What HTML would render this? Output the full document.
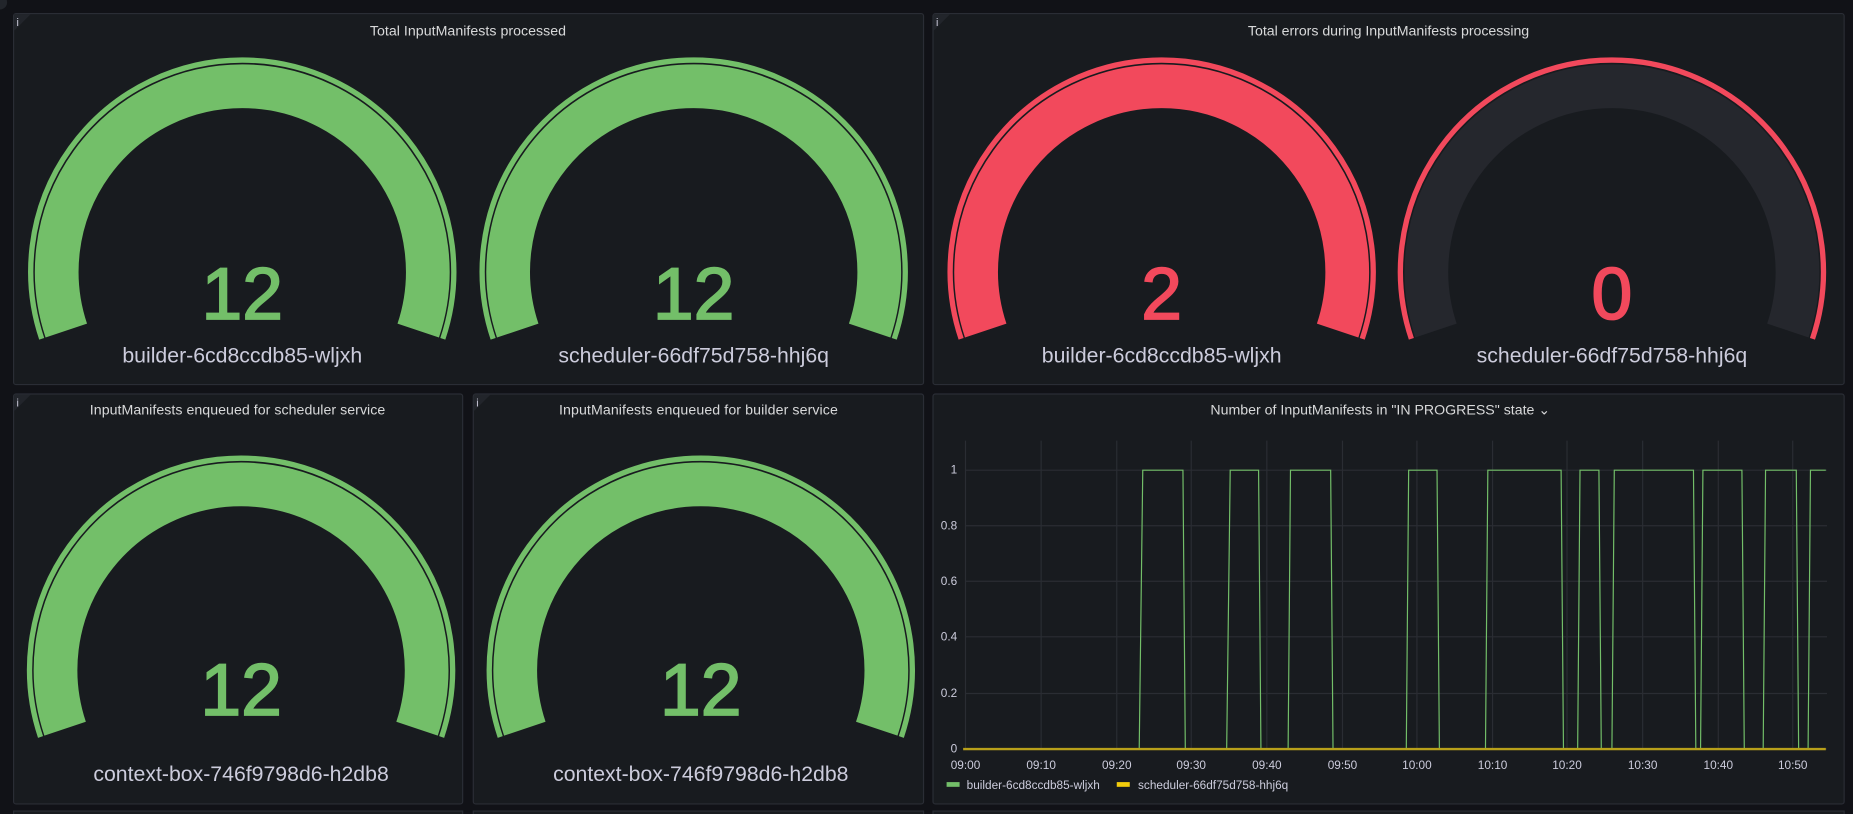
<!DOCTYPE html>
<html><head><meta charset="utf-8"><style>
html,body{margin:0;padding:0;background:#111217;}
svg{display:block;}
text{font-family:"Liberation Sans",sans-serif;}
</style></head><body>
<svg width="1853" height="814" viewBox="0 0 1568 689" preserveAspectRatio="none" xmlns="http://www.w3.org/2000/svg">
<rect width="1568" height="689" fill="#111217"/>
<circle cx="0" cy="2" r="6" fill="#22252b"/>
<g fill="#181b1f" stroke="#2a2d35" stroke-width="1">
<rect x="11.5" y="11.5" width="770" height="314" rx="2"/>
<rect x="789.5" y="11.5" width="771" height="314" rx="2"/>
<rect x="11.5" y="333.5" width="380" height="347" rx="2"/>
<rect x="400.5" y="333.5" width="381" height="347" rx="2"/>
<rect x="789.5" y="333.5" width="771" height="347" rx="2"/>
<rect x="11.5" y="686.5" width="380" height="10"/>
<rect x="400.5" y="686.5" width="381" height="10"/>
<rect x="789.5" y="686.5" width="771" height="10"/>
</g>
<g fill="#22252b">
<polygon points="12,12 26,12 12,26"/><polygon points="790,12 804,12 790,26"/>
<polygon points="12,334 26,334 12,348"/><polygon points="401,334 415,334 401,348"/>
</g>
<g fill="#ccccdc" font-size="9" font-family="Liberation Serif,serif">
<text x="14" y="22">i</text><text x="792" y="22">i</text><text x="14" y="344">i</text><text x="403" y="344">i</text>
</g>
<g fill="#d8d9da" font-size="12" text-anchor="middle">
<text x="396" y="30" textLength="166">Total InputManifests processed</text>
<text x="1175" y="30" textLength="238">Total errors during InputManifests processing</text>
<text x="201" y="351" textLength="250">InputManifests enqueued for scheduler service</text>
<text x="591" y="351" textLength="236">InputManifests enqueued for builder service</text>
<text x="1168" y="351">Number of InputManifests in "IN PROGRESS" state ⌄</text>
</g>
<defs>
<g id="ring"><path d="M -169.7 56.8 A 179 179 0 1 1 169.7 56.8" fill="none" stroke-width="4.5"/></g>
<g id="band"><path d="M -148.9 49.8 A 157 157 0 1 1 148.9 49.8" fill="none" stroke-width="37"/></g>
</defs>
<g stroke="#73bf69">
<use href="#ring" x="205" y="230"/><use href="#band" x="205" y="230"/>
<use href="#ring" x="587" y="230"/><use href="#band" x="587" y="230"/>
<use href="#ring" x="204" y="567"/><use href="#band" x="204" y="567"/>
<use href="#ring" x="593" y="567"/><use href="#band" x="593" y="567"/>
</g>
<g stroke="#f2495c">
<use href="#ring" x="983" y="230"/><use href="#band" x="983" y="230"/>
<use href="#ring" x="1364" y="230"/>
</g>
<use href="#band" x="1364" y="230" stroke="#25272d"/>
<g font-size="62" text-anchor="middle" stroke-width="1.5">
<text x="205" y="270" fill="#73bf69" stroke="#73bf69">12</text>
<text x="587" y="270" fill="#73bf69" stroke="#73bf69">12</text>
<text x="983" y="270" fill="#f2495c" stroke="#f2495c">2</text>
<text x="1364" y="270" fill="#f2495c" stroke="#f2495c">0</text>
<text x="204" y="605" fill="#73bf69" stroke="#73bf69">12</text>
<text x="593" y="605" fill="#73bf69" stroke="#73bf69">12</text>
</g>
<g font-size="18" text-anchor="middle" fill="#ccccdc">
<text x="205" y="307">builder-6cd8ccdb85-wljxh</text>
<text x="587" y="307">scheduler-66df75d758-hhj6q</text>
<text x="983" y="307">builder-6cd8ccdb85-wljxh</text>
<text x="1364" y="307">scheduler-66df75d758-hhj6q</text>
<text x="204" y="661">context-box-746f9798d6-h2db8</text>
<text x="593" y="661">context-box-746f9798d6-h2db8</text>
</g>
<g stroke="#2a2d33" stroke-width="1">
<line x1="817" y1="398" x2="1546" y2="398"/>
<line x1="817" y1="445" x2="1546" y2="445"/>
<line x1="817" y1="492" x2="1546" y2="492"/>
<line x1="817" y1="539" x2="1546" y2="539"/>
<line x1="817" y1="587" x2="1546" y2="587"/>
<line x1="817" y1="634" x2="1546" y2="634"/>
<line x1="817" y1="373" x2="817" y2="634"/>
<line x1="881" y1="373" x2="881" y2="634"/>
<line x1="945" y1="373" x2="945" y2="634"/>
<line x1="1008" y1="373" x2="1008" y2="634"/>
<line x1="1072" y1="373" x2="1072" y2="634"/>
<line x1="1136" y1="373" x2="1136" y2="634"/>
<line x1="1199" y1="373" x2="1199" y2="634"/>
<line x1="1263" y1="373" x2="1263" y2="634"/>
<line x1="1326" y1="373" x2="1326" y2="634"/>
<line x1="1390" y1="373" x2="1390" y2="634"/>
<line x1="1454" y1="373" x2="1454" y2="634"/>
<line x1="1517" y1="373" x2="1517" y2="634"/>
</g>
<g fill="#ccccdc" font-size="10" text-anchor="end">
<text x="810" y="401">1</text><text x="810" y="448">0.8</text><text x="810" y="495">0.6</text>
<text x="810" y="542">0.4</text><text x="810" y="590">0.2</text><text x="810" y="637">0</text>
</g>
<g fill="#ccccdc" font-size="10" text-anchor="middle">
<text x="817" y="651">09:00</text><text x="881" y="651">09:10</text><text x="945" y="651">09:20</text>
<text x="1008" y="651">09:30</text><text x="1072" y="651">09:40</text><text x="1136" y="651">09:50</text>
<text x="1199" y="651">10:00</text><text x="1263" y="651">10:10</text><text x="1326" y="651">10:20</text>
<text x="1390" y="651">10:30</text><text x="1454" y="651">10:40</text><text x="1517" y="651">10:50</text>
</g>
<polyline fill="none" stroke="#73bf69" stroke-width="1" points="817,634 964,634 967,398 1001,398 1003,634 1038,634 1041,398 1065,398 1067,634 1090,634 1092,398 1126,398 1128,634 1190,634 1192,398 1216,398 1218,634 1257,634 1259,398 1321,398 1323,634 1335,634 1337,398 1353,398 1355,634 1364,634 1366,398 1433,398 1435,634 1439,634 1441,398 1474,398 1476,634 1492,634 1494,398 1520,398 1522,634 1530,634 1532,398 1545,398"/>
<line x1="815" y1="634" x2="1545" y2="634" stroke="#b8a01a" stroke-width="2"/>
<rect x="801" y="662" width="11" height="4" fill="#73bf69"/>
<rect x="945" y="662" width="11" height="4" fill="#f2cc0c"/>
<g fill="#ccccdc" font-size="10">
<text x="818" y="668">builder-6cd8ccdb85-wljxh</text>
<text x="963" y="668">scheduler-66df75d758-hhj6q</text>
</g>
</svg>
</body></html>
